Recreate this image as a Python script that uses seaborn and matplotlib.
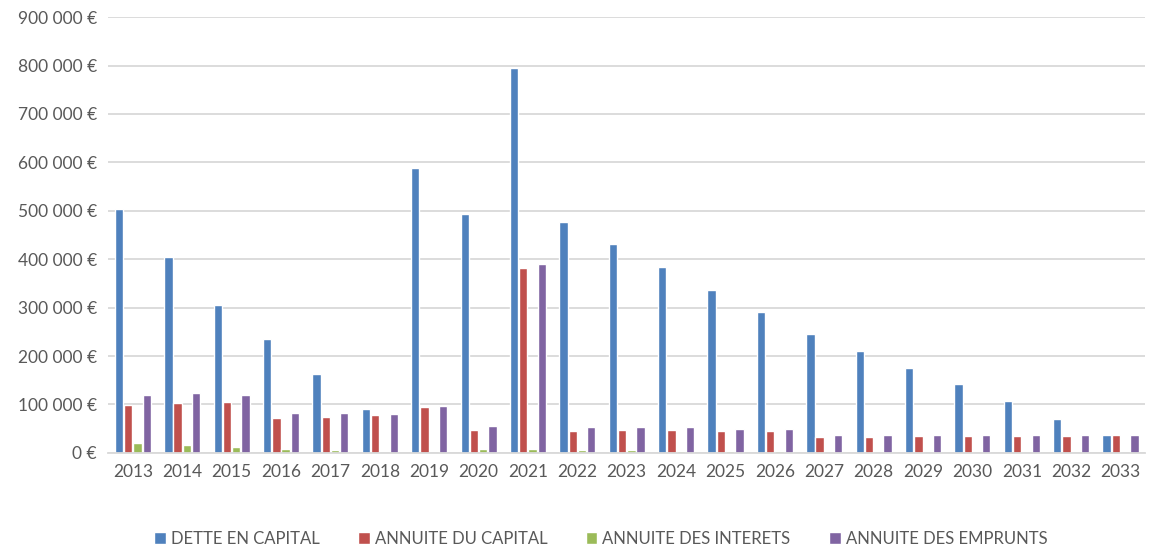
import matplotlib.pyplot as plt
import matplotlib.ticker as mticker
import seaborn as sns
import pandas as pd

years = [str(y) for y in range(2013, 2034)]
dette_capital = [503000, 405000, 305000, 236000, 164000, 91000, 588000, 494000, 794000, 476000,
                 431000, 384000, 337000, 290000, 245000, 210000, 176000, 142000, 107000, 71000, 36000]
annuite_capital = [99000, 103000, 105000, 72000, 74000, 78000, 95000, 47000, 382000, 45000,
                   47000, 47000, 45000, 45000, 32000, 32000, 34000, 34000, 34000, 34000, 36000]
annuite_interets = [21000, 17000, 12000, 8000, 6000, 0, 0, 8000, 8000, 6000,
                    6000, 4000, 3000, 3000, 0, 0, 0, 0, 0, 0, 0]
annuite_emprunts = [120000, 123000, 120000, 82000, 82000, 80000, 97000, 56000, 391000, 54000,
                    54000, 54000, 50000, 50000, 37000, 37000, 37000, 37000, 37000, 37000, 37000]

series = ["DETTE EN CAPITAL", "ANNUITE DU CAPITAL", "ANNUITE DES INTERETS", "ANNUITE DES EMPRUNTS"]
colors = ["#4F81BD", "#C0504D", "#9BBB59", "#8064A2"]

df = pd.DataFrame({
    "annee": years * 4,
    "valeur": dette_capital + annuite_capital + annuite_interets + annuite_emprunts,
    "serie": [s for s in series for _ in years],
})

sns.set_style("white")
plt.rcParams['font.family'] = ['Lato', 'DejaVu Sans']
text_color = "#595959"

fig = plt.figure(figsize=(11.51, 5.51), dpi=100)
ax = fig.add_axes([0.094, 0.178, 0.901, 0.791])

sns.barplot(data=df, x="annee", y="valeur", hue="serie", hue_order=series,
            palette=colors, width=0.75, gap=0.1, saturation=1, ax=ax)

ax.set_ylim(0, 900000)
ax.set_xlim(-0.5, len(years) - 0.5)
ax.yaxis.set_major_locator(mticker.MultipleLocator(100000))
ax.yaxis.set_major_formatter(mticker.FuncFormatter(
    lambda v, _: "0 €" if v == 0 else f"{int(v):,}".replace(",", " ") + " €"))
ax.grid(axis="y", color="#D9D9D9", linewidth=1.3)
ax.set_axisbelow(True)
for side in ["top", "right", "left"]:
    ax.spines[side].set_visible(False)
ax.spines["bottom"].set_color("#D9D9D9")
ax.spines["bottom"].set_linewidth(1.3)
ax.tick_params(axis="both", length=0, labelsize=12.5, colors=text_color, pad=8)
ax.set_xlabel("")
ax.set_ylabel("")

ax.legend(loc="upper center", bbox_to_anchor=(0.475, -0.145), ncol=4, frameon=False,
          fontsize=12, labelcolor=text_color, handlelength=0.7, handleheight=0.7,
          handletextpad=0.3, columnspacing=2.3)

plt.savefig("out.png", dpi=100)
